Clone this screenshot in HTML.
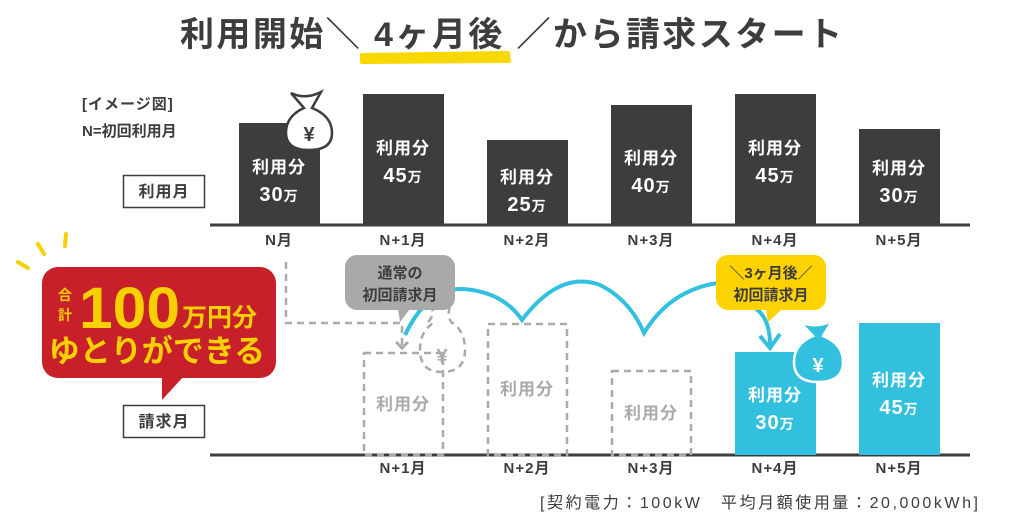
<!DOCTYPE html>
<html><head><meta charset="utf-8"><style>
html,body{margin:0;padding:0;background:#fff;}
svg{display:block;font-family:"Liberation Sans","Noto Sans CJK JP",sans-serif;font-weight:bold;}
</style></head><body>
<svg width="1024" height="526" viewBox="0 0 1024 526" xmlns="http://www.w3.org/2000/svg">
<!-- title -->
<path d="M362 55 L508 53 L509 61 L362 62 Z" fill="#f7d800" stroke="#f7d800" stroke-width="4" stroke-linejoin="round"/>
<text x="180" y="46" font-size="34" fill="#3d3d3d" textLength="662" lengthAdjust="spacing">利用開始＼ 4ヶ月後 ／から請求スタート</text>

<!-- left labels -->
<text x="82" y="109" font-size="15" fill="#3d3d3d" letter-spacing="1">[イメージ図]</text>
<text x="82" y="136" font-size="15" fill="#3d3d3d">N=初回利用月</text>
<rect x="123.5" y="175.5" width="81" height="32" fill="#fff" stroke="#3d3d3d" stroke-width="1.5"/>
<text x="164" y="197" text-anchor="middle" font-size="16" fill="#3d3d3d" letter-spacing="1">利用月</text>
<rect x="123.5" y="405.5" width="81" height="32" fill="#fff" stroke="#3d3d3d" stroke-width="1.5"/>
<text x="164" y="427" text-anchor="middle" font-size="16" fill="#3d3d3d" letter-spacing="1">請求月</text>

<!-- top bars -->
<g fill="#3d3d3d">
<rect x="239" y="123" width="81" height="102"/>
<rect x="363" y="94" width="81" height="131"/>
<rect x="487" y="140" width="81" height="85"/>
<rect x="611" y="105" width="81" height="120"/>
<rect x="735" y="94" width="81" height="131"/>
<rect x="859" y="129" width="81" height="96"/>
</g>
<line x1="210" y1="225" x2="970" y2="225" stroke="#3d3d3d" stroke-width="3"/>
<g fill="#fff" font-size="17" text-anchor="middle" letter-spacing="1">
<text x="279" y="173">利用分</text><text x="279" y="201" font-size="20">30<tspan font-size="14">万</tspan></text>
<text x="403" y="154">利用分</text><text x="403" y="182" font-size="20">45<tspan font-size="14">万</tspan></text>
<text x="527" y="183">利用分</text><text x="527" y="211" font-size="20">25<tspan font-size="14">万</tspan></text>
<text x="651" y="164">利用分</text><text x="651" y="192" font-size="20">40<tspan font-size="14">万</tspan></text>
<text x="775" y="154">利用分</text><text x="775" y="182" font-size="20">45<tspan font-size="14">万</tspan></text>
<text x="899" y="174">利用分</text><text x="899" y="202" font-size="20">30<tspan font-size="14">万</tspan></text>
</g>
<g fill="#3d3d3d" font-size="15" text-anchor="middle" letter-spacing="1">
<text x="279" y="245">N月</text><text x="403" y="245">N+1月</text><text x="527" y="245">N+2月</text>
<text x="651" y="245">N+3月</text><text x="775" y="245">N+4月</text><text x="899" y="245">N+5月</text>
</g>
<!-- bag top -->
<path d="M291 93 Q305 100 321 92 L312 108 Q332 116 332 133 Q332 150 309 150 Q286 150 286 133 Q286 116 304 108 Z" stroke="#3d3d3d" stroke-width="2.5" fill="#fff"/>
<text x="309" y="141" text-anchor="middle" font-size="20" fill="#3d3d3d">¥</text>

<!-- bottom -->
<line x1="210" y1="455" x2="970" y2="455" stroke="#3d3d3d" stroke-width="3"/>
<g fill="none" stroke="#aaa" stroke-width="2.5" stroke-dasharray="7 5">
<rect x="364" y="353" width="79" height="102"/>
<rect x="488" y="324" width="79" height="131"/>
<rect x="612" y="371" width="79" height="84"/>
<path d="M286 262 V323 H402 V345"/>
<path d="M428 322 Q436 314 430 303 L452 302 Q446 312 451 322 Q465 330 465 350 Q465 372 442 372 Q420 372 420 350 Q420 330 435 322"/>
</g>
<path d="M396 342 L402 348 L408 342" fill="none" stroke="#aaa" stroke-width="3"/>
<text x="442" y="363" text-anchor="middle" font-size="20" fill="#aaa">¥</text>
<g fill="#aaa" font-size="17" text-anchor="middle" letter-spacing="1">
<text x="403" y="410">利用分</text><text x="527" y="395">利用分</text><text x="651" y="419">利用分</text>
</g>
<g fill="#33c0de">
<rect x="735" y="352" width="81" height="103"/>
<rect x="859" y="323" width="81" height="132"/>
</g>
<!-- blue arcs -->
<path d="M405 335 Q430 282 472 290 Q505 295 522 320 Q560 270 600 285 Q630 300 644 333 Q670 290 718 283" fill="none" stroke="#33c0de" stroke-width="4"/>
<path d="M755 308 Q770 318 770 345" fill="none" stroke="#33c0de" stroke-width="4"/>
<path d="M760 336 L770 348 L780 334" fill="none" stroke="#33c0de" stroke-width="4"/>
<!-- blue bag -->
<path d="M800 322 Q815 329 832 321 L823 336 Q843 344 843 362 Q843 382 818 382 Q794 382 794 362 Q794 344 813 336 Z" fill="#33c0de" stroke="#fff" stroke-width="2.5"/>
<text x="818" y="372" text-anchor="middle" font-size="20" fill="#fff">¥</text>
<g fill="#fff" font-size="17" text-anchor="middle" letter-spacing="1">
<text x="775" y="401">利用分</text><text x="775" y="429" font-size="20">30<tspan font-size="14">万</tspan></text>
<text x="899" y="386">利用分</text><text x="899" y="414" font-size="20">45<tspan font-size="14">万</tspan></text>
</g>
<g fill="#3d3d3d" font-size="15" text-anchor="middle" letter-spacing="1">
<text x="403" y="473">N+1月</text><text x="527" y="473">N+2月</text>
<text x="651" y="473">N+3月</text><text x="775" y="473">N+4月</text><text x="899" y="473">N+5月</text>
</g>

<!-- gray bubble -->
<rect x="345" y="255" width="110" height="55" rx="12" fill="#a9a9a9"/>
<path d="M398 309 L410 309 L400 322 Z" fill="#a9a9a9"/>
<g fill="#3d3d3d" font-size="15" text-anchor="middle"><text x="400" y="278">通常の</text><text x="400" y="300">初回請求月</text></g>
<!-- yellow bubble -->
<rect x="716" y="255" width="110" height="55" rx="12" fill="#fcd200"/>
<path d="M766 309 L782 309 L768 322 Z" fill="#fcd200"/>
<g fill="#3d3d3d" font-size="15" text-anchor="middle"><text x="771" y="278">＼3ヶ月後／</text><text x="771" y="300">初回請求月</text></g>

<!-- red bubble -->
<g stroke="#f7d000" stroke-width="4" stroke-linecap="round">
<line x1="18" y1="262" x2="28" y2="268"/><line x1="38" y1="244" x2="44" y2="254"/><line x1="66" y1="234" x2="65" y2="246"/>
</g>
<rect x="42" y="267" width="234" height="111" rx="16" fill="#c8202a"/>
<path d="M162 376 L184 376 L162 400 Z" fill="#c8202a"/>
<g fill="#f7d000">
<text x="58" y="300" font-size="14">合</text><text x="58" y="320" font-size="14">計</text>
<text x="79" y="328" font-size="58" font-family="'Liberation Sans',sans-serif" textLength="101" lengthAdjust="spacingAndGlyphs">100</text>
<text x="182" y="326" font-size="25">万円分</text>
<text x="157" y="362" text-anchor="middle" font-size="31">ゆとりができる</text>
</g>

<text x="540" y="508" font-size="16" font-weight="normal" fill="#3d3d3d" textLength="438" lengthAdjust="spacing">[契約電力：100kW　平均月額使用量：20,000kWh]</text>
</svg>
</body></html>
